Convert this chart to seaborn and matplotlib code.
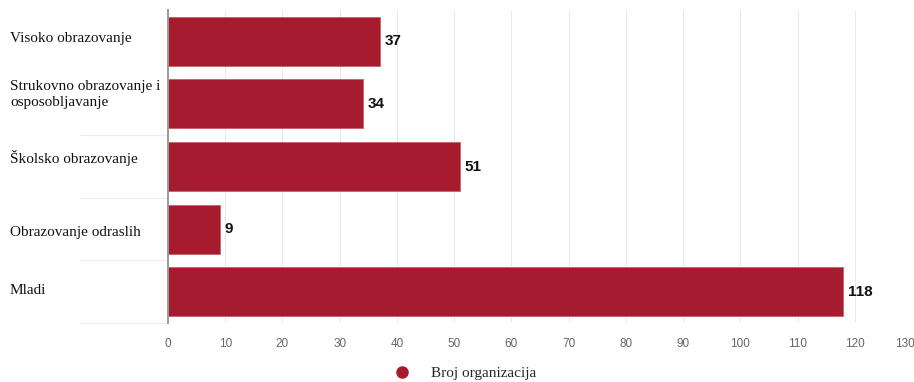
import matplotlib
matplotlib.use("Agg")
import matplotlib.pyplot as plt
from matplotlib.lines import Line2D
from matplotlib.transforms import ScaledTranslation
import seaborn as sns
import pandas as pd

categories = [
    "Visoko obrazovanje",
    "Strukovno obrazovanje i\nosposobljavanje",
    "Školsko obrazovanje",
    "Obrazovanje odraslih",
    "Mladi",
]
counts = [37, 34, 51, 9, 118]
x_ticks = list(range(0, 131, 10))
series_name = "Broj organizacija"

bar_color = "#a61c2e"

df = pd.DataFrame({"kategorija": categories, "broj": counts})

sns.set_theme(style="white")
plt.rcParams["font.family"] = ["Liberation Sans", "DejaVu Sans"]

fig = plt.figure(figsize=(9.14, 3.82), dpi=100)
ax = fig.add_axes([168 / 914, 1 - 323 / 382, 744 / 914, 313 / 382])
px_per_unit = 744 / 130

sns.barplot(data=df, x="broj", y="kategorija", color=bar_color,
            saturation=1, width=0.78, edgecolor="#c9606c", linewidth=0.6,
            ax=ax, zorder=3)

ax.set_xlim(0, 130)
ax.set_ylim(len(categories) - 0.5, -0.5)
ax.set_xticks(x_ticks)
ax.set_xticklabels([str(t) for t in x_ticks], color="#666666", fontsize=8.5)
ax.tick_params(axis="x", length=0, pad=11)
ax.tick_params(axis="y", length=0)
ax.set_yticklabels([])
ax.set_xlabel("")
ax.set_ylabel("")

# keep the last tick label inside the figure
last = ax.get_xticklabels()[-1]
last.set_transform(last.get_transform() + ScaledTranslation(-7 / 100, 0, fig.dpi_scale_trans))

ax.grid(axis="x", color="#e9e9e9", linewidth=0.8, zorder=0)
for s in ["top", "right", "bottom"]:
    ax.spines[s].set_visible(False)
ax.spines["left"].set_color("#9a9a9a")
ax.spines["left"].set_linewidth(1.4)
ax.spines["left"].set_zorder(4)

# value labels at the end of each bar
for i, v in enumerate(counts):
    ax.text(v + 5 / px_per_unit, i, str(v), va="center", ha="left", fontsize=11,
            fontweight="bold", color="#111111", zorder=5)

# category labels (with small vertical nudges, in pixels) and band separators
label_nudge_px = [3, 9, 9, -3, 1]
for i, name in enumerate(categories):
    t = ax.text(-158 / px_per_unit, i, name, va="center", ha="left", fontsize=11,
                family=["Liberation Serif", "DejaVu Serif"], color="#111111",
                linespacing=1.3, clip_on=False)
    t.set_transform(ax.transData + ScaledTranslation(0, label_nudge_px[i] / 100,
                                                     fig.dpi_scale_trans))
for b in range(2, len(categories) + 1):
    y = b - 0.5
    ax.plot([-88 / px_per_unit, 0], [y, y], color="#eeeeee", linewidth=0.9,
            clip_on=False, zorder=1)

handle = Line2D([], [], marker="o", linestyle="none", markersize=8,
                markerfacecolor=bar_color, markeredgecolor=bar_color)
fig.legend([handle], [series_name], loc="center", bbox_to_anchor=(461 / 914, 1 - 373 / 382),
           frameon=False, handletextpad=0.9,
           prop={"family": ["Liberation Serif", "DejaVu Serif"], "size": 11})

fig.savefig("out.png", dpi=100, facecolor="white")
